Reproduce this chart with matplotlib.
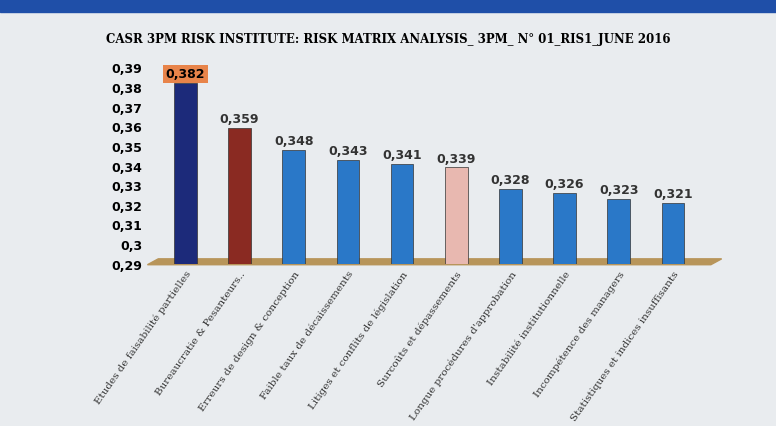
import matplotlib
matplotlib.use("Agg")
import matplotlib.pyplot as plt
from matplotlib.patches import Polygon

categories = ["Etudes de faisabilité partielles", "Bureaucratie & Pesanteurs..",
              "Erreurs de design & conception", "Faible taux de décaissements",
              "Litiges et conflits de législation", "Surcoûts et dépassements",
              "Longue procédures d'approbation", "Instabilité institutionnelle",
              "Incompétence des managers", "Statistiques et indices insuffisants"]
values = [0.382, 0.359, 0.348, 0.343, 0.341, 0.339, 0.328, 0.326, 0.323, 0.321]
colors = ["#1c2a7a", "#8a2a22", "#2a78c8", "#2a78c8", "#2a78c8", "#e8b8b0",
          "#2a78c8", "#2a78c8", "#2a78c8", "#2a78c8"]
tick_labels = ["0,29", "0,3", "0,31", "0,32", "0,33", "0,34", "0,35", "0,36", "0,37", "0,38", "0,39"]

fig = plt.figure(figsize=(7.76, 4.27), dpi=100)
fig.patch.set_facecolor("#e9ecef")
fig.add_artist(plt.Rectangle((0, 0.97), 1, 0.03, color="#1f4fa8", transform=fig.transFigure))
ax = fig.add_axes([0.19, 0.38, 0.74, 0.46])
ax.set_facecolor("#e9ecef")

x = range(len(values))
ax.add_patch(Polygon([(-0.7, 0.2895), (9.7, 0.2895), (9.9, 0.2925), (-0.5, 0.2925)],
                     closed=True, color="#b8955a", zorder=1, clip_on=False))
ax.bar(x, [v - 0.29 for v in values], bottom=0.29, width=0.42,
       color=colors, edgecolor="#333333", linewidth=0.5, zorder=2)
for i, v in enumerate(values):
    txt = f"{v:.3f}".replace(".", ",")
    if i == 0:
        ax.text(i, v + 0.0015, txt, ha="center", va="bottom", fontsize=9, fontweight="bold",
                bbox=dict(boxstyle="square,pad=0.2", fc="#e8844a", ec="none"))
    else:
        ax.text(i, v + 0.0015, txt, ha="center", va="bottom", fontsize=9, fontweight="bold",
                color="#333333")

ax.set_ylim(0.29, 0.39)
ax.set_xlim(-0.7, 9.9)
ticks = [0.29 + 0.01 * k for k in range(11)]
ax.set_yticks(ticks)
ax.set_yticklabels(tick_labels, fontsize=9, fontweight="bold")
ax.set_xticks(list(x))
ax.set_xticklabels(categories, rotation=55, ha="right", rotation_mode="anchor", fontsize=7.5,
                   family="DejaVu Serif", color="#333333")
for s in ax.spines.values():
    s.set_visible(False)
ax.tick_params(length=0)
fig.text(0.5, 0.9, "CASR 3PM RISK INSTITUTE: RISK MATRIX ANALYSIS_ 3PM_ N° 01_RIS1_JUNE 2016",
         ha="center", fontsize=8.5, fontweight="bold", family="DejaVu Serif")
fig.savefig("out.png", dpi=100, facecolor=fig.get_facecolor())
